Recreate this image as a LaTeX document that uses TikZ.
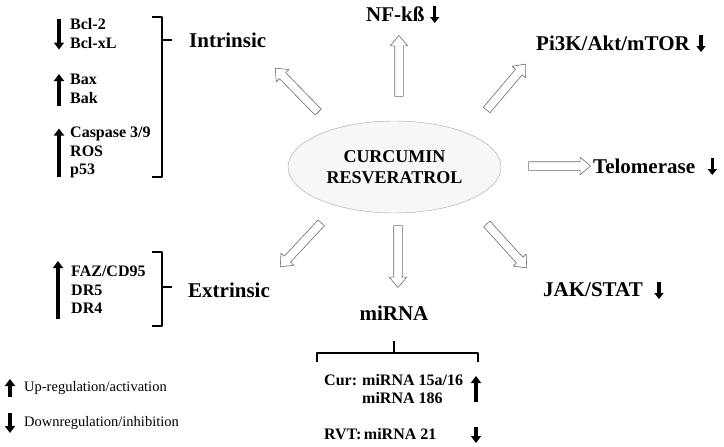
\documentclass[tikz,border=0pt]{standalone}
\usepackage{fontspec}
\setmainfont{Liberation Serif}
\usetikzlibrary{arrows.meta,shapes.geometric,shapes.arrows,calc,positioning}

\begin{document}
\begin{tikzpicture}[x=1pt,y=-1pt, line join=round,
	big/.style={font=\fontsize{21}{24}\selectfont\bfseries, inner sep=0pt, anchor=west},
	small/.style={font=\fontsize{16}{18.5}\selectfont\bfseries, inner sep=0pt, align=left, anchor=west},
	legtext/.style={font=\fontsize{14.5}{17}\selectfont, inner sep=0pt, anchor=west},
	regarrow/.style={line width=4pt, -{Triangle[length=7pt,width=10pt]}},
	tagarrow/.style={line width=3.5pt, -{Triangle[length=6pt,width=9pt]}},
	hollowarrow/.style={single arrow, draw=gray!85!black, fill=white, line width=0.6pt,
		inner xsep=0pt, inner ysep=4pt, single arrow head extend=4.5pt,
		single arrow tip angle=80, sloped, allow upside down},
	brk/.style={line width=1.8pt}]
	\useasboundingbox (0,0) rectangle (724,447);
	\def\hollow#1#2{\path let \p1=($(#2)-(#1)$), \n1={veclen(\x1,\y1)} in
		(#1) -- (#2) node[hollowarrow, midway, minimum height=\n1]{};}
	% centre
	\node[ellipse, draw=gray!70, fill=gray!6, minimum width=213pt, minimum height=92pt, inner sep=0pt,
		align=center, font=\fontsize{18}{21}\selectfont\bfseries] (cr) at (394.5,167) {CURCUMIN\\RESVERATROL};
	% pathways
	\node[big] (intr) at (189,40) {Intrinsic};
	\node[big] (nf) at (366,14) {NF-kß};
	\node[big] (pi) at (536,43) {Pi3K/Akt/mTOR};
	\node[big] (telo) at (593,166) {Telomerase};
	\node[big] (jak) at (543,290) {JAK/STAT};
	\node[big, anchor=center] (mir) at (394,313) {miRNA};
	\node[big] (extr) at (188,290) {Extrinsic};
	\draw[tagarrow] ([shift={(10,-8)}]nf.east) -- ([shift={(10,9)}]nf.east);
	\draw[tagarrow] ([shift={(11,-8)}]pi.east) -- ([shift={(11,9)}]pi.east);
	\draw[tagarrow] ([shift={(17,-8)}]telo.east) -- ([shift={(17,9)}]telo.east);
	\draw[tagarrow] ([shift={(16,-8)}]jak.east) -- ([shift={(16,9)}]jak.east);
	% hollow arrows
	\coordinate (t1) at (320,114); \coordinate (h1) at (277,70);
	\coordinate (t2) at (399,99);  \coordinate (h2) at (399,38);
	\coordinate (t3) at (485,112); \coordinate (h3) at (524,66);
	\coordinate (t4) at (526,166); \coordinate (h4) at (588,166);
	\coordinate (t5) at (485,222); \coordinate (h5) at (525,266);
	\coordinate (t6) at (398,223); \coordinate (h6) at (398,285);
	\coordinate (t7) at (323,221); \coordinate (h7) at (282,265);
	\foreach \i in {1,...,7}{\hollow{t\i}{h\i}}
	% intrinsic list
	\node[small] (bcl) at (70,33.5) {Bcl-2\\Bcl-xL};
	\node[small] (bax) at (70,89) {Bax\\Bak};
	\node[small] (casp) at (70,152.5) {Caspase 3/9\\ROS\\p53};
	\draw[regarrow] ([shift={(-11,-15)}]bcl.west) -- ([shift={(-11,16)}]bcl.west);
	\draw[regarrow] ([shift={(-11,17)}]bax.west) -- ([shift={(-11,-15)}]bax.west);
	\draw[regarrow] ([shift={(-11,24)}]casp.west) -- ([shift={(-11,-24)}]casp.west);
	\draw[brk] (152,17) -- (162,17) -- (162,177) -- (152,177);
	\draw[brk] (162,40) -- (172,40);
	% extrinsic list
	\node[small] (faz) at (71,290) {FAZ/CD95\\DR5\\DR4};
	\draw[regarrow] ([shift={(-13,29)}]faz.west) -- ([shift={(-13,-29)}]faz.west);
	\draw[brk] (152,252) -- (162,252) -- (162,326) -- (152,326);
	\draw[brk] (162,287) -- (172,287);
	% miRNA list
	\draw[brk] (317,362) -- (317,353) -- (478,353) -- (478,362);
	\draw[brk] (394,353) -- (394,341);
	\node[small] (cur) at (324,380) {Cur:};
	\node[small] (m1) at (362,380) {miRNA 15a/16};
	\node[small] (m2) at (362,398) {miRNA 186};
	\node[small] (rvt) at (324,434) {RVT:};
	\node[small, right=2pt of rvt] (m3) {miRNA 21};
	\draw[regarrow] (476,402) -- (476,376);
	\draw[regarrow] (476,427) -- (476,443);
	% legend
	\draw[regarrow] (10,397) -- (10,379);
	\node[legtext] (up) at (24,388) {Up-regulation/activation};
	\draw[regarrow] (10,413) -- (10,433);
	\node[legtext] (dn) at (24,423) {Downregulation/inhibition};
\end{tikzpicture}
\end{document}
